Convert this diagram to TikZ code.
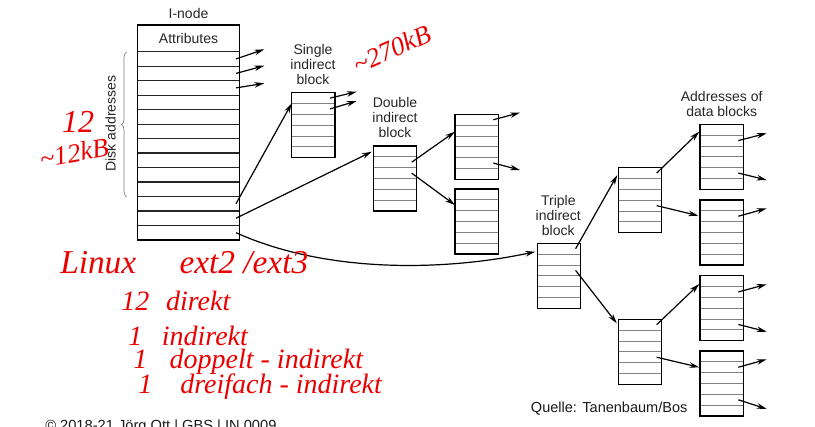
\documentclass[tikz,border=0pt]{standalone}
\usepackage{fontspec}
\setmainfont{Liberation Sans}
\newfontfamily\handfont{Liberation Serif}
\usetikzlibrary{arrows.meta,calc,decorations.pathreplacing}
\definecolor{inkred}{RGB}{235,0,0}
\newcommand\mkblk[3]{%
  \node[blk] (#1) at (#2,#3) {};
  \foreach \i in {1,...,5}{\draw[rowln] ($(#1.north west)!\i/6!(#1.south west)$) -- ($(#1.north east)!\i/6!(#1.south east)$);}
  \draw[blkline] (#1.south west) rectangle (#1.north east);
  \foreach \i in {1,...,6}{\coordinate (#1-r\i) at ($(#1.north east)!{(\i-0.5)/6}!(#1.south east)+(-5,0)$);}
}
\begin{document}
\begin{tikzpicture}[x=0.75pt,y=-0.75pt,
  blk/.style={draw=black, line width=1.1pt, minimum width=32.5pt, minimum height=48.75pt, inner sep=0pt, outer sep=0pt, anchor=north west},
  blkline/.style={draw=black, line width=1.1pt},
  rowln/.style={draw=black!50, line width=0.6pt},
  inode/.style={draw=black, line width=1.1pt, minimum width=76.2pt, minimum height=161.25pt, inner sep=0pt, outer sep=0pt, anchor=north west},
  inln/.style={draw=black!85, line width=0.9pt},
  ptr/.style={-{Stealth[length=7.5pt,width=4.2pt]}, line width=0.9pt, draw=black},
  lbl/.style={font=\fontsize{10.5}{11.6}\selectfont, text=black!85, align=center, inner sep=0pt},
  hand/.style={font=\handfont\itshape\fontsize{21}{23}\selectfont, text=inkred, inner sep=0pt},
  handbig/.style={font=\handfont\itshape\fontsize{25}{27}\selectfont, text=inkred, inner sep=0pt}]
\useasboundingbox (0,0) rectangle (815,426);

% ---------- I-node ----------
\node[inode] (IN) at (137.7,25) {};
\foreach \k in {0,...,12}{\draw[inln] ($(IN.north west)+(0,{26.7+\k*14.48})$) -- ++(101.6,0);}
\draw[blkline] (IN.south west) rectangle (IN.north east);
\foreach \i in {1,...,13}{\coordinate (IN-r\i) at ($(IN.north east)+(-3.3,{26.7+(\i-0.5)*14.48})$);}
\node[lbl] (inlabel) at (188.5,13) {I-node};
\node[lbl] (attr) at (188.5,38.5) {Attributes};
\coordinate (brb) at (126.7,197);
\coordinate (brt) at (126.7,52);
\draw[decorate, decoration={brace, amplitude=4pt}, draw=black!50, line width=0.5pt] (brb) -- (brt);
\node[lbl, rotate=90] (disk) at (110.7,123.5) {Disk addresses};

% ---------- blocks ----------
\mkblk{S}{291.7}{92.7}
\mkblk{D}{373.3}{146}
\mkblk{A}{455}{114.3}
\mkblk{B}{455}{189}
\mkblk{T}{537.3}{243.3}
\mkblk{C}{618.3}{167.7}
\mkblk{Q}{618.3}{319.3}
\mkblk{E}{700}{124.3}
\mkblk{F}{700}{200}
\mkblk{G}{700}{275.7}
\mkblk{H}{700}{351}

% ---------- labels ----------
\node[lbl] (lS) at (313,64.5) {Single\\indirect\\block};
\node[lbl] (lD) at (395,117.5) {Double\\indirect\\block};
\node[lbl] (lT) at (558.3,215.5) {Triple\\indirect\\block};
\node[lbl] (lE) at (721.7,104) {Addresses of\\data blocks};
\node[lbl, anchor=west, text=black!90, font=\fontsize{10.9}{12}\selectfont] (src) at (530.7,409) {Quelle: Tanenbaum/Bos};
\node[anchor=base west, inner sep=0pt, font=\fontsize{11}{12}\selectfont, text=black!90] (foot) at (45,430) {© 2018-21 Jörg Ott | GBS | IN 0009};

% ---------- free ends ----------
\coordinate (f1) at (264.3,49.3);
\coordinate (f2) at (264.3,65.7);
\coordinate (f3) at (264.3,83.3);
\coordinate (fS1) at (356.7,91.7);
\coordinate (fS2) at (356.7,101);
\coordinate (fA1) at (520,112.7);
\coordinate (fA5) at (520,170);
\coordinate (fE2) at (766.7,133.3);
\coordinate (fE5) at (766.7,180);
\coordinate (fF2) at (766.7,208.3);
\coordinate (fG2) at (766.7,284.3);
\coordinate (fG5) at (766.7,331.7);
\coordinate (fH2) at (766.7,359.3);
\coordinate (fH5) at (766.7,409);

% ---------- pointers ----------
\draw[ptr] (IN-r1) -- (f1);
\draw[ptr] (IN-r2) -- (f2);
\draw[ptr] (IN-r3) -- (f3);
\draw[ptr] (IN-r11) -- ($(S.north west)+(0,10.6)$);
\draw[ptr] (IN-r12) -- ($(D.north west)+(-1.5,5.7)$);
\draw[ptr] (IN-r13) .. controls (330,275) and (450,270) .. ($(T.north west)+(-2,8.4)$);
\draw[ptr] (S-r1) -- (fS1);
\draw[ptr] (S-r2) -- (fS2);
\draw[ptr] (D-r2) -- ($(A.north west)+(0,17.4)$);
\draw[ptr] (D-r3) -- ($(B.north west)+(0,16)$);
\draw[ptr] (A-r1) -- (fA1);
\draw[ptr] (A-r5) -- (fA5);
\draw[ptr] (T-r1) -- ($(C.north west)+(-1,7.3)$);
\draw[ptr] (T-r3) -- ($(Q.north west)+(-1.5,4)$);
\draw[ptr] (C-r1) -- ($(E.north west)+(-0.7,7.4)$);
\draw[ptr] (C-r4) -- ($(F.north west)+(-1.7,15.7)$);
\draw[ptr] (Q-r1) -- ($(G.north west)+(-0.7,8.3)$);
\draw[ptr] (Q-r4) -- ($(H.north west)+(-0.7,16.3)$);
\draw[ptr] (E-r2) -- (fE2);
\draw[ptr] (E-r5) -- (fE5);
\draw[ptr] (F-r2) -- (fF2);
\draw[ptr] (G-r2) -- (fG2);
\draw[ptr] (G-r5) -- (fG5);
\draw[ptr] (H-r2) -- (fH2);
\draw[ptr] (H-r5) -- (fH5);

% ---------- handwritten notes ----------
\node[hand, font=\handfont\itshape\fontsize{24}{26}\selectfont] (n12) at (78,122) {12};
\node[hand, rotate=10, font=\handfont\itshape\fontsize{20}{22}\selectfont] (n12k) at (74,153) {\textasciitilde12kB};
\node[hand, rotate=24, font=\handfont\itshape\fontsize{20}{22}\selectfont] (n270) at (392,49) {\textasciitilde270kB};
\node[handbig, anchor=west] (nlinux) at (60,263) {Linux\hspace{1.3em}ext2 /ext3};
\node[hand, anchor=west] (nl1) at (121,301) {12\hspace{0.6em}direkt};
\node[hand, anchor=west] (nl2) at (128,336) {1\hspace{0.7em}indirekt};
\node[hand, anchor=west] (nl3) at (133,362) {1\hspace{0.8em}doppelt - indirekt};
\node[hand, anchor=west] (nl4) at (138,387) {1\hspace{1em}dreifach - indirekt};
\end{tikzpicture}
\end{document}
